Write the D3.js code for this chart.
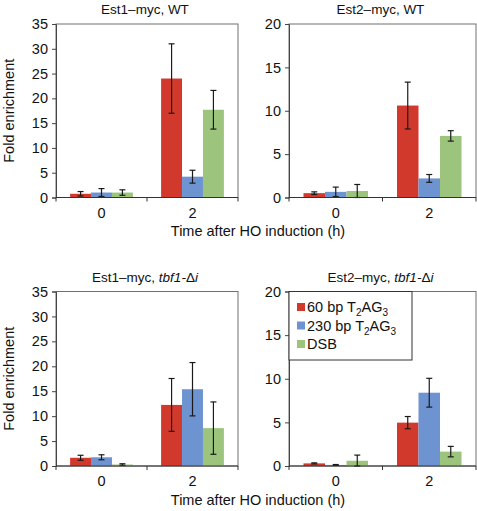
<!DOCTYPE html>
<html><head><meta charset="utf-8">
<script src="https://cdn.jsdelivr.net/npm/d3@7"></script>
<style>
body{margin:0;background:#fff}
svg{display:block}
text{font-family:"Liberation Sans",Arial,Helvetica,sans-serif;fill:#111}
</style>
</head><body>
<svg id="c" width="477" height="511"></svg>
<script>
// ---------- data ----------
const categories = ["0", "2"];
const seriesNames = ["60 bp", "230 bp", "DSB"];
const seriesColors = ["#d0392b", "#6d93d1", "#9cc47d"];

// values[series][category], errors[series][category]
const est1WT_values = [[0.75, 24.0], [1.0, 4.2], [1.0, 17.7]];
const est1WT_errors = [[0.45, 7.0], [0.8, 1.3], [0.55, 3.9]];
const est2WT_values = [[0.5, 10.6], [0.65, 2.2], [0.75, 7.1]];
const est2WT_errors = [[0.15, 2.7], [0.55, 0.45], [0.75, 0.6]];
const est1Tbf_values = [[1.65, 12.25], [1.75, 15.4], [0.3, 7.6]];
const est1Tbf_errors = [[0.5, 5.3], [0.5, 5.35], [0.15, 5.25]];
const est2Tbf_values = [[0.3, 4.97], [0.12, 8.4], [0.6, 1.65]];
const est2Tbf_errors = [[0.06, 0.7], [0.05, 1.65], [0.65, 0.6]];

const yTicks35 = [0, 5, 10, 15, 20, 25, 30, 35];
const yTicks20 = [0, 5, 10, 15, 20];

const xTitle = "Time after HO induction (h)";
const yTitle = "Fold enrichment";

// ---------- layout ----------
const panels = [
  {title: ["Est1\u2013myc, WT"], values: est1WT_values, errors: est1WT_errors, ymax: 35, ticks: yTicks35,
   left: 56, right: 238, top: 24, bottom: 197.5, ylabel: true, xlabel: true},
  {title: ["Est2\u2013myc, WT"], values: est2WT_values, errors: est2WT_errors, ymax: 20, ticks: yTicks20,
   left: 289, right: 476, top: 24, bottom: 197.5},
  {title: ["Est1\u2013myc, ", "tbf1-", "\u0394", "i"], values: est1Tbf_values, errors: est1Tbf_errors, ymax: 35, ticks: yTicks35,
   left: 56, right: 238, top: 291.5, bottom: 466, ylabel: true, xlabel: true},
  {title: ["Est2\u2013myc, ", "tbf1-", "\u0394", "i"], values: est2Tbf_values, errors: est2Tbf_errors, ymax: 20, ticks: yTicks20,
   left: 289, right: 476, top: 291.5, bottom: 466, legend: true}
];

const svg = d3.select("#c");
const FS = 14.5;

panels.forEach(p => {
  const g = svg.append("g");
  const x0 = d3.scaleBand().domain(categories).range([p.left, p.right]).paddingInner(0).paddingOuter(0);
  const bw = x0.bandwidth();
  const x1 = d3.scaleBand().domain(d3.range(seriesNames.length)).range([bw * 0.155, bw * 0.845]).padding(0);
  const y = d3.scaleLinear().domain([0, p.ymax]).range([p.bottom, p.top]);

  // box
  g.append("rect").attr("x", p.left).attr("y", p.top).attr("width", p.right - p.left).attr("height", p.bottom - p.top)
    .attr("fill", "none").attr("stroke", "#707070").attr("stroke-width", 1);

  // bars
  const data = [];
  p.values.forEach((vals, si) => vals.forEach((v, ci) => data.push({si, ci, v, e: p.errors[si][ci]})));
  g.selectAll("rect.bar").data(data).join("rect").attr("class", "bar")
    .attr("x", d => x0(categories[d.ci]) + x1(d.si))
    .attr("width", x1.bandwidth())
    .attr("y", d => y(d.v))
    .attr("height", d => y(0) - y(d.v))
    .attr("fill", d => seriesColors[d.si]);

  // error bars
  const eb = g.selectAll("g.err").data(data).join("g").attr("class", "err")
    .attr("stroke", "#1a1a1a").attr("stroke-width", 1.2);
  const cx = d => x0(categories[d.ci]) + x1(d.si) + x1.bandwidth() / 2;
  eb.append("line").attr("x1", cx).attr("x2", cx).attr("y1", d => y(d.v + d.e)).attr("y2", d => y(Math.max(0, d.v - d.e)));
  eb.append("line").attr("x1", d => cx(d) - 3).attr("x2", d => cx(d) + 3).attr("y1", d => y(d.v + d.e)).attr("y2", d => y(d.v + d.e));
  eb.append("line").attr("x1", d => cx(d) - 3).attr("x2", d => cx(d) + 3).attr("y1", d => y(Math.max(0, d.v - d.e))).attr("y2", d => y(Math.max(0, d.v - d.e)));

  // y axis
  const ya = g.append("g").attr("transform", `translate(${p.left},0)`)
    .call(d3.axisLeft(y).tickValues(p.ticks).tickSize(4).tickPadding(4).tickFormat(d3.format("d")));
  ya.select(".domain").attr("stroke", "#444");
  ya.selectAll(".tick line").attr("stroke", "#444");
  ya.selectAll("text").attr("font-size", FS).attr("font-family", null).attr("fill", "#111");

  // x axis (labels) + boundary ticks
  const xa = g.append("g").attr("transform", `translate(0,${p.bottom})`)
    .call(d3.axisBottom(x0).tickSize(0).tickPadding(10));
  xa.select(".domain").attr("stroke", "#333").attr("d", `M${p.left},0H${p.right}`);
  xa.selectAll("text").attr("font-size", FS).attr("font-family", null).attr("fill", "#111");
  const bounds = categories.map(c => x0(c)).concat([p.right]);
  g.selectAll("line.xt").data(bounds).join("line").attr("class", "xt")
    .attr("x1", d => d).attr("x2", d => d).attr("y1", p.bottom).attr("y2", p.bottom + 4)
    .attr("stroke", "#333");

  // title
  const t = g.append("text").attr("x", (p.left + p.right) / 2 - 2).attr("y", p.top - 10)
    .attr("text-anchor", "middle").attr("font-size", 13.5);
  p.title.forEach((s, i) => {
    t.append("tspan").text(s).attr("font-style", (p.title.length > 1 && (i === 1 || i === 3)) ? "italic" : "normal");
  });

  if (p.ylabel) {
    svg.append("text").attr("transform", `translate(14,${(p.top + p.bottom) / 2}) rotate(-90)`)
      .attr("text-anchor", "middle").attr("font-size", FS).text(yTitle);
  }
  if (p.xlabel) {
    svg.append("text").attr("x", 258).attr("y", p.bottom + 38.5)
      .attr("text-anchor", "middle").attr("font-size", FS).text(xTitle);
  }

  if (p.legend) {
    const lg = g.append("g");
    lg.append("rect").attr("x", p.left).attr("y", p.top).attr("width", 123).attr("height", 68.5)
      .attr("fill", "#fff").attr("stroke", "#333").attr("stroke-width", 1);
    seriesNames.forEach((name, i) => {
      const cy = p.top + 15.5 + i * 18.5;
      lg.append("rect").attr("x", p.left + 8).attr("y", cy - 4).attr("width", 8).attr("height", 8).attr("fill", seriesColors[i]);
      const tx = lg.append("text").attr("x", p.left + 18).attr("y", cy + 5).attr("font-size", FS);
      tx.append("tspan").text(name);
      if (i < 2) {
        tx.append("tspan").text(" T");
        tx.append("tspan").text("2").attr("font-size", 10).attr("dy", 4);
        tx.append("tspan").text("AG").attr("dy", -4);
        tx.append("tspan").text("3").attr("font-size", 10).attr("dy", 4);
      }
    });
  }
});
</script>
</body></html>
